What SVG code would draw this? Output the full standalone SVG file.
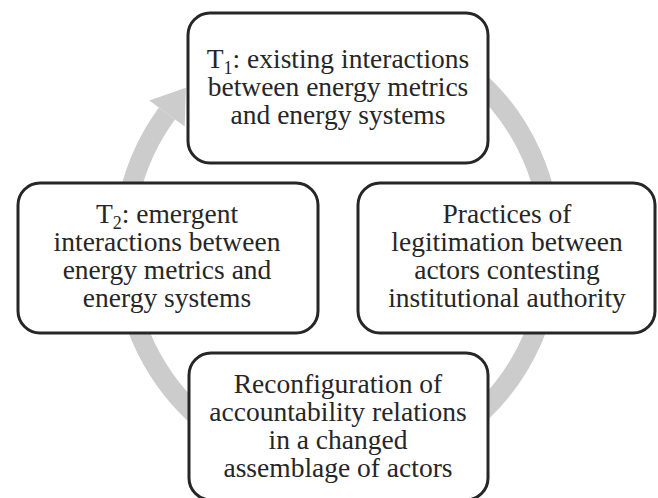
<svg xmlns="http://www.w3.org/2000/svg" width="658" height="498" viewBox="0 0 658 498">
<style>
.box{fill:#ffffff;stroke:#262626;stroke-width:3}
.lbl{font-family:"Liberation Serif","Times New Roman",serif;font-size:27.5px;fill:#262626;text-anchor:middle}
.sub{font-size:18px;baseline-shift:-6px}
.cyc{fill:none;stroke:#cccccc;stroke-width:20}
.head{fill:#cccccc}
</style>
<rect width="658" height="498" fill="#ffffff"/>
<g id="connectors">
<path class="cyc" d="M 400.2 35.9 A 214 222 0 1 1 167 113.5"/>
<polygon class="head" points="149.3,100.5 185.9,87.7 184.7,126.5"/>
</g>
<g id="node-t1">
<rect class="box" x="188" y="13" width="300" height="150" rx="22"/>
<text class="lbl" x="338" y="68">T<tspan class="sub">1</tspan>: existing interactions</text>
<text class="lbl" x="338" y="96">between energy metrics</text>
<text class="lbl" x="338" y="124">and energy systems</text>
</g>
<g id="node-t2">
<rect class="box" x="18" y="183" width="300" height="150" rx="22"/>
<text class="lbl" x="167" y="223">T<tspan class="sub">2</tspan>: emergent</text>
<text class="lbl" x="167" y="251">interactions between</text>
<text class="lbl" x="167" y="279">energy metrics and</text>
<text class="lbl" x="167" y="307">energy systems</text>
</g>
<g id="node-legitimation">
<rect class="box" x="358" y="183" width="297" height="150" rx="22"/>
<text class="lbl" x="507" y="223">Practices of</text>
<text class="lbl" x="507" y="251">legitimation between</text>
<text class="lbl" x="507" y="279">actors contesting</text>
<text class="lbl" x="507" y="307">institutional authority</text>
</g>
<g id="node-reconfiguration">
<rect class="box" x="189" y="353" width="299" height="147" rx="22"/>
<text class="lbl" x="338" y="393">Reconfiguration of</text>
<text class="lbl" x="338" y="421">accountability relations</text>
<text class="lbl" x="338" y="449">in a changed</text>
<text class="lbl" x="338" y="477">assemblage of actors</text>
</g>
</svg>
